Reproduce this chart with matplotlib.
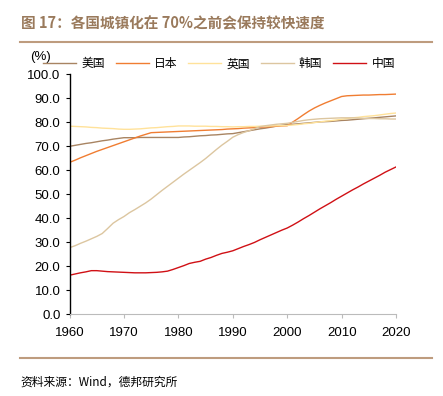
import matplotlib
matplotlib.use("Agg")
import matplotlib.pyplot as plt
import numpy as np

plt.rcParams['font.family'] = ['Liberation Sans', 'Noto Sans CJK SC', 'DejaVu Sans']

# ==========================================
# 数据：城镇化率 (%)，1960-2020
# ==========================================
years = np.arange(1960, 2021)

usa = [70.0, 70.4, 70.8, 71.2, 71.5, 71.9, 72.3, 72.6, 73.0, 73.3,
       73.6, 73.6, 73.6, 73.7, 73.7, 73.7, 73.7, 73.7, 73.7, 73.7,
       73.7, 73.9, 74.0, 74.2, 74.4, 74.5, 74.7, 74.8, 75.0, 75.2,
       75.3, 75.7, 76.1, 76.5, 76.9, 77.3, 77.6, 78.0, 78.4, 78.8,
       79.1, 79.2, 79.4, 79.6, 79.8, 80.0, 80.2, 80.3, 80.4, 80.6,
       80.8, 80.9, 81.1, 81.3, 81.5, 81.7, 81.9, 82.1, 82.3, 82.5, 82.7]

japan = [63.3, 64.2, 65.2, 66.1, 67.0, 67.9, 68.7, 69.5, 70.3, 71.1,
         71.9, 72.7, 73.5, 74.3, 75.0, 75.7, 75.8, 75.9, 76.0, 76.1,
         76.2, 76.3, 76.4, 76.5, 76.6, 76.7, 76.8, 76.9, 77.0, 77.2,
         77.3, 77.4, 77.6, 77.7, 77.8, 78.0, 78.1, 78.2, 78.4, 78.5,
         78.6, 80.1, 81.6, 83.2, 84.7, 86.0, 87.1, 88.1, 89.0, 89.9,
         90.8, 91.1, 91.2, 91.3, 91.4, 91.4, 91.5, 91.6, 91.6, 91.7, 91.8]

uk = [78.4, 78.3, 78.2, 78.1, 77.9, 77.8, 77.6, 77.5, 77.4, 77.2,
      77.1, 77.1, 77.2, 77.3, 77.5, 77.7, 77.8, 78.0, 78.2, 78.3,
      78.5, 78.5, 78.5, 78.4, 78.4, 78.4, 78.3, 78.3, 78.2, 78.2,
      78.1, 78.2, 78.2, 78.3, 78.3, 78.4, 78.4, 78.5, 78.6, 78.6,
      78.7, 78.9, 79.1, 79.4, 79.6, 79.9, 80.2, 80.5, 80.7, 81.0,
      81.3, 81.6, 81.9, 82.1, 82.4, 82.6, 82.8, 83.1, 83.4, 83.7, 83.9]

korea = [27.7, 28.5, 29.5, 30.4, 31.4, 32.4, 33.6, 35.7, 37.9, 39.4,
         40.7, 42.3, 43.6, 45.0, 46.4, 48.0, 49.8, 51.6, 53.3, 55.0,
         56.7, 58.4, 60.0, 61.6, 63.2, 64.9, 66.8, 68.7, 70.5, 72.1,
         73.8, 74.9, 75.8, 76.5, 77.4, 78.2, 78.6, 78.9, 79.2, 79.4,
         79.6, 80.0, 80.4, 80.8, 81.1, 81.3, 81.5, 81.6, 81.7, 81.8,
         81.9, 81.9, 81.9, 81.8, 81.7, 81.6, 81.6, 81.5, 81.5, 81.4, 81.4]

china = [16.2, 16.7, 17.2, 17.6, 18.1, 18.1, 17.9, 17.7, 17.6, 17.5,
         17.4, 17.3, 17.2, 17.2, 17.2, 17.3, 17.4, 17.6, 17.9, 18.6,
         19.4, 20.2, 21.1, 21.6, 22.0, 22.9, 23.6, 24.5, 25.3, 25.8,
         26.4, 27.3, 28.2, 29.0, 29.9, 31.0, 32.0, 33.0, 34.0, 35.0,
         35.9, 37.1, 38.4, 39.8, 41.1, 42.5, 43.9, 45.2, 46.5, 47.9,
         49.2, 50.5, 51.8, 53.0, 54.3, 55.5, 56.7, 57.9, 59.2, 60.3, 61.4]

series_names = ["美国", "日本", "英国", "韩国", "中国"]
series_colors = ["#A88462", "#F07D32", "#FFE29A", "#DCC6A0", "#D01015"]

# ==========================================
# 画图
# ==========================================
fig = plt.figure(figsize=(4.43, 3.96), dpi=100)
ax = fig.add_axes([0.157, 0.207, 0.737, 0.605])

for vals, name, col in zip([usa, japan, uk, korea, china], series_names, series_colors):
    ax.plot(years, vals, color=col, linewidth=1.0, label=name)

ax.set_xlim(1960, 2020)
ax.set_ylim(0, 100)
ax.set_xticks(np.arange(1960, 2021, 10))
ax.set_yticks(np.arange(0, 101, 10))
ax.set_yticklabels([f"{v:.1f}" for v in np.arange(0, 101, 10)])
ax.tick_params(axis='both', labelsize=9.5, colors='black', length=3, width=0.8, direction='out')
ax.tick_params(axis='x', colors='#BBBBBB', labelcolor='black', pad=6)

for s in ['top', 'right']:
    ax.spines[s].set_visible(False)
ax.spines['left'].set_color('black')
ax.spines['left'].set_linewidth(1.0)
ax.spines['bottom'].set_color('#BBBBBB')
ax.spines['bottom'].set_linewidth(0.8)

# 单位
ax.text(-0.121, 1.073, "(%)", transform=ax.transAxes, fontsize=9.5, ha='left', va='center')

ax.legend(loc='center left', bbox_to_anchor=(-0.081, 1.044), ncol=5, frameon=False,
          prop={'family': ['Noto Sans CJK SC'], 'size': 8.5},
          handlelength=2.8, handletextpad=0.45, columnspacing=0.9,
          borderaxespad=0, borderpad=0)

# 标题与分隔线
fig.text(0.047, 0.942, "图 17：各国城镇化在 70%之前会保持较快速度", fontsize=10.5,
         fontweight='bold', color='#9A7A5C', family=['Noto Sans CJK SC', 'DejaVu Sans'],
         ha='left', va='center')
fig.add_artist(plt.Line2D([0.045, 0.975], [0.895, 0.895], color='#BE9C7E', linewidth=1.5))
fig.add_artist(plt.Line2D([0.045, 0.975], [0.096, 0.096], color='#BE9C7E', linewidth=1.5))
fig.text(0.047, 0.035, "资料来源：Wind，德邦研究所", fontsize=8.5, color='black',
         family=['Noto Sans CJK SC', 'DejaVu Sans'], ha='left', va='center')

plt.savefig("out.png", dpi=100)
